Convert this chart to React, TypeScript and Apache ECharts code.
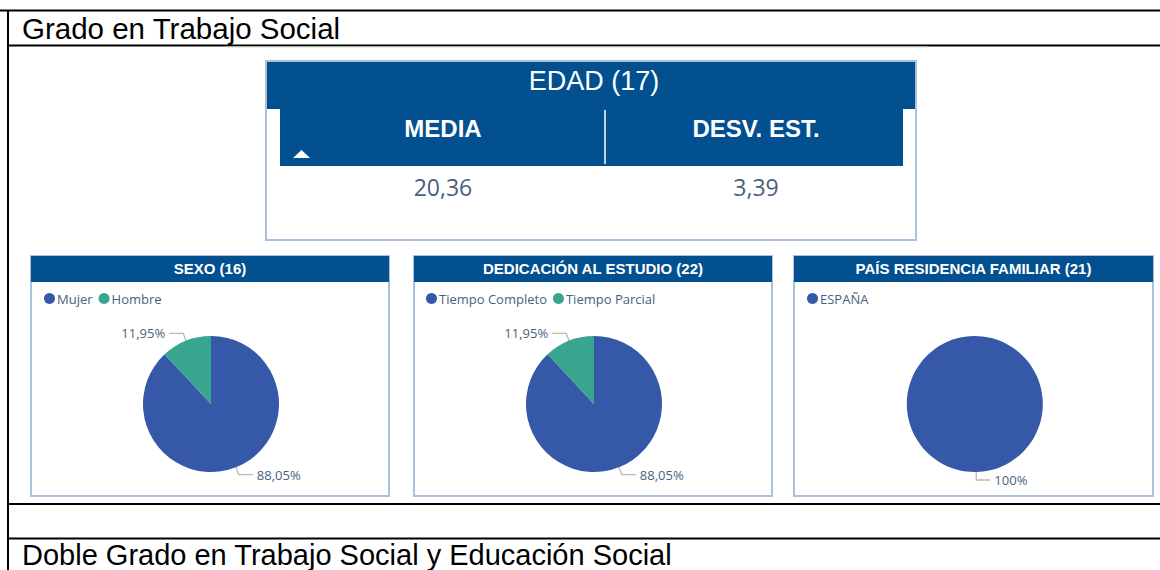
import React, { useEffect, useRef } from "react";
import * as echarts from "echarts";

// ---- data ----
const sectionTitles = ["Grado en Trabajo Social", "Doble Grado en Trabajo Social y Educación Social"];
const edadTitle = "EDAD (17)";
const edadStatLabels = ["MEDIA", "DESV. EST."];
const edadStatValues = [20.36, 3.39];
const panelTitles = ["SEXO (16)", "DEDICACIÓN AL ESTUDIO (22)", "PAÍS RESIDENCIA FAMILIAR (21)"];
const sexoCategories = ["Mujer", "Hombre"];
const sexoValues = [88.05, 11.95];
const dedicacionCategories = ["Tiempo Completo", "Tiempo Parcial"];
const dedicacionValues = [88.05, 11.95];
const paisCategories = ["ESPAÑA"];
const paisValues = [100];

const BLUE = "#3558A8";
const GREEN = "#38A68E";
const HEADER = "#02508F";
const PANEL_BORDER = "#A9C1DA";
const SLATE = "#4A5F80";
const sliceColors = [BLUE, GREEN];

const fmtNum = (v: number) => v.toFixed(2).replace(".", ",");
const fmtPct = (v: number) => (Number.isInteger(v) ? `${v}%` : `${fmtNum(v)}%`);

const txt = (x: number, y: number, text: string, o: any = {}) => ({
  type: "text",
  x,
  y,
  z: 10,
  style: {
    text,
    fill: o.fill || "#000",
    fontSize: o.fontSize || 14,
    fontFamily: o.fontFamily || "'Liberation Sans', Arial, sans-serif",
    fontWeight: o.fontWeight || "normal",
    textAlign: o.align || "left",
    align: o.align || "left",
    textVerticalAlign: "middle",
    verticalAlign: "middle",
  },
});

const line = (x1: number, y1: number, x2: number, y2: number, stroke = "#000", lineWidth = 2) => ({
  type: "line",
  z: 5,
  shape: { x1, y1, x2, y2 },
  style: { stroke, lineWidth },
});

const rect = (x: number, y: number, width: number, height: number, style: any, z = 1) => ({
  type: "rect",
  z,
  shape: { x, y, width, height },
  style,
});

const panels = [
  { left: 31, right: 389, cx: 211, cats: sexoCategories, vals: sexoValues, legendLeft: 39, start: 90 },
  { left: 414, right: 772, cx: 594, cats: dedicacionCategories, vals: dedicacionValues, legendLeft: 421, start: 90 },
  { left: 794, right: 1153, cx: 975, cats: paisCategories, vals: paisValues, legendLeft: 802, start: 91 },
];

export default function App() {
  const ref = useRef<HTMLDivElement>(null);
  useEffect(() => {
    if (!ref.current) return;
    const chart = echarts.init(ref.current, undefined, { renderer: "svg" });

    const graphic: any[] = [];
    // table lines
    graphic.push(line(0, 10.5, 1160, 10.5));
    graphic.push(line(8, 10, 8, 570));
    graphic.push(line(8, 45.5, 1160, 45.5));
    graphic.push(line(226, 47, 928, 47, "#CFE3C9", 1));
    graphic.push(line(8, 504, 1160, 504));
    graphic.push(line(8, 538.5, 1160, 538.5));
    graphic.push(txt(22, 28, sectionTitles[0], { fontSize: 29.5 }));
    graphic.push(txt(22, 555, sectionTitles[1], { fontSize: 29 }));

    // EDAD card
    graphic.push(rect(266, 61, 650, 179, { fill: "#fff", stroke: PANEL_BORDER, lineWidth: 2 }));
    graphic.push(rect(267, 62, 648, 47, { fill: HEADER }, 2));
    graphic.push(rect(280, 108, 623, 58, { fill: HEADER }, 2));
    graphic.push(line(605, 110, 605, 164, "#fff", 1.5));
    graphic.push({
      type: "polygon",
      z: 6,
      shape: { points: [[293, 158], [310, 158], [301.5, 150]] },
      style: { fill: "#fff" },
    });
    graphic.push(txt(594, 81, edadTitle, { fill: "#fff", fontSize: 27, align: "center" }));
    const colCenters = [443, 756];
    edadStatLabels.forEach((l, i) => {
      graphic.push(txt(colCenters[i], 128, l, { fill: "#fff", fontSize: 24, fontWeight: "bold", align: "center" }));
      graphic.push(
        txt(colCenters[i], 187, fmtNum(edadStatValues[i]), {
          fill: SLATE,
          fontSize: 23,
          fontFamily: "'Open Sans', 'Noto Sans', sans-serif",
          align: "center",
        })
      );
    });

    // pie panels
    panels.forEach((p, i) => {
      graphic.push(rect(p.left, 256, p.right - p.left, 240, { fill: "#fff", stroke: PANEL_BORDER, lineWidth: 2 }));
      graphic.push(rect(p.left, 256, p.right - p.left, 26, { fill: HEADER }, 2));
      graphic.push(
        txt((p.left + p.right) / 2, 268.5, panelTitles[i], {
          fill: "#fff",
          fontSize: 15,
          fontWeight: "bold",
          align: "center",
        })
      );
    });

    const series = panels.map((p) => ({
      type: "pie",
      center: [p.cx, 404],
      radius: 68,
      startAngle: p.start,
      clockwise: true,
      silent: true,
      avoidLabelOverlap: false,
      z: 3,
      data: p.cats.map((c, j) => ({ name: c, value: p.vals[j], itemStyle: { color: sliceColors[j] } })),
      label: {
        show: true,
        position: "outside",
        formatter: (d: any) => fmtPct(d.value),
        color: SLATE,
        fontSize: 13,
        fontFamily: "'Open Sans', 'Noto Sans', sans-serif",
        distanceToLabelLine: 4,
      },
      labelLine: { show: true, length: 8, length2: 14, lineStyle: { color: "#B8B8B8", width: 1.3 } },
      emphasis: { disabled: true },
    }));

    const legend = panels.map((p) => ({
      data: p.cats,
      left: p.legendLeft,
      top: 287,
      orient: "horizontal",
      icon: "circle",
      itemWidth: 11,
      itemHeight: 11,
      itemGap: 6,
      selectedMode: false,
      textStyle: { color: SLATE, fontSize: 13, fontFamily: "'Open Sans', 'Noto Sans', sans-serif", padding: [0, 0, 0, -3] },
    }));

    chart.setOption({
      animation: false,
      backgroundColor: "#fff",
      legend,
      series,
      graphic: { elements: graphic },
    });
    return () => chart.dispose();
  }, []);
  return (
    <div
      ref={ref}
      style={{ position: "absolute", left: 0, top: 0, width: 1160, height: 570, background: "#fff" }}
    />
  );
}
